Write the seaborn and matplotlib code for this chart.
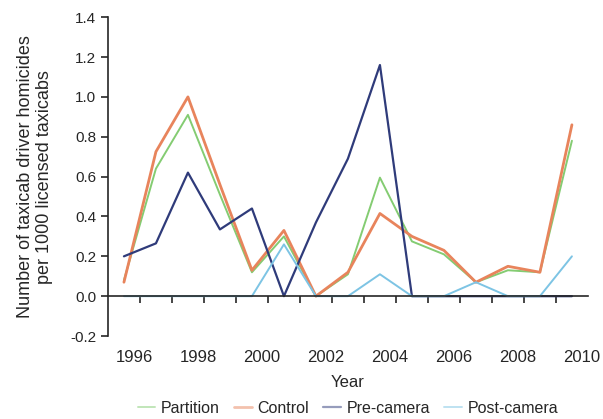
import matplotlib
matplotlib.use('Agg')
import matplotlib.pyplot as plt
import matplotlib.transforms as mtransforms
import numpy as np
import pandas as pd
import seaborn as sns

years = list(range(1996, 2011))
partition = [0.08, 0.64, 0.91, 0.51, 0.12, 0.30, 0.0, 0.11, 0.595, 0.275, 0.21, 0.07, 0.13, 0.12, 0.78]
control = [0.07, 0.725, 1.0, 0.56, 0.13, 0.33, 0.0, 0.12, 0.415, 0.30, 0.23, 0.07, 0.15, 0.12, 0.86]
pre_camera = [0.20, 0.265, 0.62, 0.335, 0.44, 0.0, 0.37, 0.69, 1.16, 0.0, 0.0, 0.0, 0.0, 0.0, 0.0]
post_camera = [0.0, 0.0, 0.0, 0.0, 0.0, 0.26, 0.0, 0.0, 0.11, 0.0, 0.0, 0.07, 0.0, 0.0, 0.20]
year_labels = ['1996', '1998', '2000', '2002', '2004', '2006', '2008', '2010']

sns.set_style('ticks')
plt.rcParams['font.family'] = ['Liberation Sans', 'DejaVu Sans']

fig = plt.figure(figsize=(6.03, 4.19), dpi=100)
ax = fig.add_axes([0.179, 0.198, 0.796, 0.761])

series = [('Partition', partition, '#84cc72', 1.4),
          ('Control', control, '#e8845c', 2.0),
          ('Pre-camera', pre_camera, '#2f3b7a', 1.6),
          ('Post-camera', post_camera, '#7dc4e4', 1.4)]
for name, vals, color, lw in series:
    sns.lineplot(x=years, y=vals, color=color, linewidth=lw, label=name, ax=ax)

ax.set_xlim(1995.5, 2010.5)
ax.set_ylim(-0.2, 1.4)
ax.set_yticks(np.arange(-0.2, 1.41, 0.2))
ax.set_yticklabels([f'{v:.1f}' for v in np.arange(-0.2, 1.41, 0.2)])

ax.spines['top'].set_visible(False)
ax.spines['right'].set_visible(False)
ax.spines['bottom'].set_position(('data', 0))
ax.spines['left'].set_linewidth(1.2)
ax.spines['bottom'].set_linewidth(1.2)

ax.set_xticks([int(y) for y in year_labels])
ax.set_xticklabels(year_labels)
ax.set_xticks(np.arange(1996.5, 2010.5, 1), minor=True)
ax.tick_params(axis='x', which='major', length=0, pad=39, labelsize=12)
ax.tick_params(axis='x', which='minor', length=5, width=1.2, direction='out')
ax.tick_params(axis='y', length=5, width=1.2, labelsize=11, direction='out')

# labels sit a little right of the data points in the original
shift = mtransforms.ScaledTranslation(0.10, 0, fig.dpi_scale_trans)
for lab in ax.get_xticklabels():
    lab.set_transform(lab.get_transform() + shift)

ax.set_xlabel('Year', fontsize=12, labelpad=7)
ax.set_ylabel('Number of taxicab driver homicides\nper 1000 licensed taxicabs', fontsize=13, labelpad=12)

leg = ax.legend(loc='center', bbox_to_anchor=(0.5, -0.226), ncol=4, frameon=False,
                handlelength=1.1, fontsize=11.5, columnspacing=0.9, handletextpad=0.35)
for h in leg.get_lines():
    h.set_alpha(0.5)

fig.savefig('out.png', dpi=100)
